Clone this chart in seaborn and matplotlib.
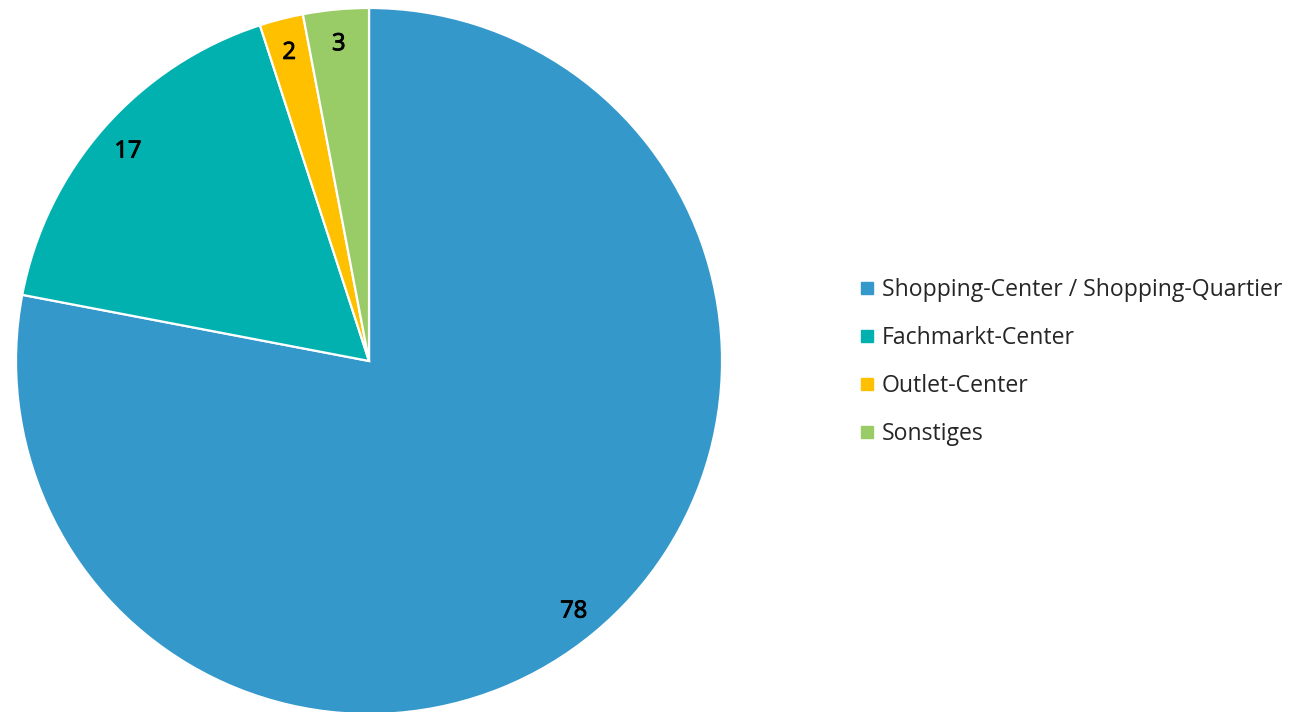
import matplotlib
matplotlib.use("Agg")
import matplotlib.pyplot as plt
import matplotlib.patheffects as pe
from matplotlib.lines import Line2D
import seaborn as sns

categories = [
    "Shopping-Center / Shopping-Quartier",
    "Fachmarkt-Center",
    "Outlet-Center",
    "Sonstiges",
]
values = [78, 17, 2, 3]
colors = ["#3598CB", "#00B1B0", "#FFC000", "#99CC66"]

sns.set_theme(style="white")
plt.rcParams["font.family"] = ["Open Sans", "DejaVu Sans"]

fig = plt.figure(figsize=(12.91, 7.12), dpi=100)
# square axes holding the pie, centred left of the legend
ax = fig.add_axes([0.01239, -0.0028, 0.5469, 0.9916])

wedges, texts = ax.pie(
    values,
    colors=colors,
    startangle=90,
    counterclock=False,
    labels=[str(v) for v in values],
    labeldistance=0.91,
    radius=1.0,
    wedgeprops=dict(edgecolor="white", linewidth=1.6),
    textprops=dict(fontsize=17, color="black"),
)
for t in texts:
    t.set_horizontalalignment("center")
    t.set_verticalalignment("center_baseline")
    # slightly heavier digits than the regular face
    t.set_path_effects([pe.withStroke(linewidth=0.7, foreground="black")])
ax.set_xlim(-1, 1)
ax.set_ylim(-1, 1)
ax.set_aspect("equal")

handles = [
    Line2D([0], [0], marker="s", linestyle="none", markersize=8,
           markerfacecolor=c, markeredgecolor=c)
    for c in colors
]
fig.legend(
    handles, categories,
    loc="center left",
    bbox_to_anchor=(0.666, 0.492),
    frameon=False,
    fontsize=16.6,
    handlelength=0.6,
    handletextpad=0.35,
    labelspacing=1.04,
    borderaxespad=0,
    borderpad=0,
)

fig.savefig("out.png", dpi=100)
